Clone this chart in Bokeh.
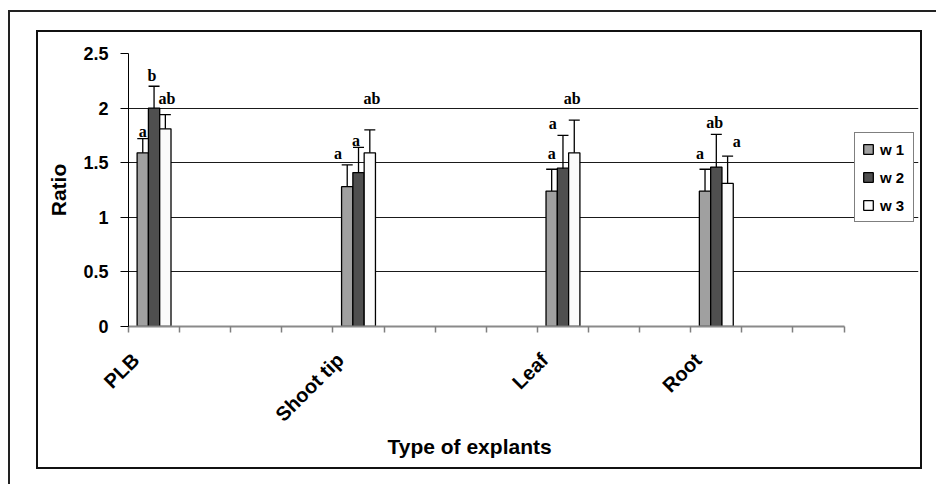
import math
from bokeh.plotting import figure
from bokeh.models import (Range1d, FixedTicker, NumeralTickFormatter, Whisker, TeeHead,
                          ColumnDataSource, Legend, LegendItem, Title)
from bokeh.core.properties import value
from bokeh.embed import file_html
from bokeh.resources import INLINE

# ---------------- data ----------------
categories = ["PLB", "Shoot tip", "Leaf", "Root"]
category_slot = [0, 4, 8, 11]          # slot index among 14 category slots on the axis
n_slots = 14
series = ["w 1", "w 2", "w 3"]
w1 = [1.59, 1.28, 1.24, 1.24]
w2 = [2.00, 1.41, 1.45, 1.46]
w3 = [1.81, 1.59, 1.59, 1.31]
w1_err = [0.13, 0.20, 0.20, 0.20]
w2_err = [0.20, 0.23, 0.30, 0.30]
w3_err = [0.13, 0.21, 0.30, 0.25]
w1_letters = ["a", "a", "a", "a"]
w2_letters = ["b", "a", "a", "ab"]
w3_letters = ["ab", "ab", "ab", "a"]
# letter annotation heights (data units) and horizontal nudges (slot units)
w1_letter_y = [1.79, 1.58, 1.58, 1.58]
w2_letter_y = [2.30, 1.70, 1.86, 1.87]
w3_letter_y = [2.09, 2.09, 2.09, 1.69]
w1_letter_dx = [0.0, -0.18, 0.0, -0.10]
w2_letter_dx = [-0.04, -0.05, -0.20, -0.03]
w3_letter_dx = [0.03, 0.04, -0.04, 0.18]
y_ticks = [0, 0.5, 1, 1.5, 2, 2.5]
x_title = "Type of explants"
y_title = "Ratio"

# ---------------- styles / layout ----------------
colors = ["#a0a0a0", "#4f4f4f", "#fbfbfb"]
bar_w = 0.221
offsets = [-bar_w, 0.0, bar_w]
label_shift = -0.36
SANS = "Liberation Sans"
SERIF = "Liberation Serif"

plot_px = 715.6      # pixel width of the category axis
frame_px = 790       # frame width incl. room for the legend on the right
x_end = n_slots * frame_px / plot_px

p = figure(width=882, height=435, output_backend="svg", toolbar_location=None,
           x_range=Range1d(0, x_end), y_range=Range1d(0, 2.5),
           min_border_left=90, min_border_right=2, min_border_top=21, min_border_bottom=141)
p.background_fill_color = "white"
p.border_fill_color = "white"
p.outline_line_color = None
p.margin = (32, 0, 0, 38)
# inner chart-area frame (2px ring) and outer page frame (L-shaped edge on left/top)
p.styles = {
    "box-shadow": ("0 0 0 2px #111111, "
                   "1972px 1980px 0 2000px #ffffff, "
                   "1970px 1978px 0 2000px #222222"),
}

# grid
p.xgrid.grid_line_color = None
p.ygrid.ticker = FixedTicker(ticks=y_ticks)
p.ygrid.grid_line_color = "#1a1a1a"
p.ygrid.grid_line_width = 1
p.ygrid.bounds = (0, n_slots)

# y axis
ya = p.yaxis[0]
ya.ticker = FixedTicker(ticks=y_ticks)
ya.formatter = NumeralTickFormatter(format="0.[0]")
ya.major_tick_out = 8
ya.major_tick_in = 0
ya.minor_tick_line_color = None
ya.axis_line_color = "black"
ya.major_tick_line_color = "black"
ya.major_label_text_font = SANS
ya.major_label_text_font_style = "bold"
ya.major_label_text_font_size = "18px"
ya.major_label_text_color = "black"
ya.major_label_standoff = 12
ya.axis_label = y_title
ya.axis_label_text_font = SANS
ya.axis_label_text_font_style = "bold"
ya.axis_label_text_font_size = "21px"
ya.axis_label_text_color = "black"
ya.axis_label_standoff = 10

# x axis
centers = [s + 0.5 for s in category_slot]
label_pos = [c + label_shift for c in centers]
xa = p.xaxis[0]
xa.bounds = (0, n_slots)
xa.ticker = FixedTicker(ticks=label_pos, minor_ticks=list(range(n_slots + 1)))
xa.major_label_overrides = {c: lab for c, lab in zip(label_pos, categories)}
xa.major_tick_line_color = None
xa.major_tick_out = 0
xa.major_tick_in = 0
xa.minor_tick_out = 6
xa.minor_tick_in = 0
xa.minor_tick_line_color = "#7f7f7f"
xa.minor_tick_line_width = 1.5
xa.axis_line_color = "#8a8a8a"
xa.axis_line_width = 2
xa.major_label_orientation = math.pi / 4
xa.major_label_text_font = SANS
xa.major_label_text_font_style = "bold"
xa.major_label_text_font_size = "20px"
xa.major_label_text_color = "black"
xa.major_label_standoff = 24

# x-axis title, centred under the category axis (not the whole frame)
xt = Title(text=x_title, align="left", offset=259, standoff=-8,
           text_font=SANS, text_font_style="bold", text_font_size="21px",
           text_color="black")
p.add_layout(xt, "below")

# bars + error bars
vals = [w1, w2, w3]
errs = [w1_err, w2_err, w3_err]
letters = [w1_letters, w2_letters, w3_letters]
letter_y = [w1_letter_y, w2_letter_y, w3_letter_y]
letter_dx = [w1_letter_dx, w2_letter_dx, w3_letter_dx]
items = []
for i, name in enumerate(series):
    xs = [c + offsets[i] for c in centers]
    src = ColumnDataSource(dict(x=xs, top=vals[i],
                                lo=[v - e for v, e in zip(vals[i], errs[i])],
                                hi=[v + e for v, e in zip(vals[i], errs[i])]))
    r = p.vbar(x="x", top="top", bottom=0, width=bar_w, source=src,
               fill_color=colors[i], line_color="black", line_width=1.3)
    items.append(LegendItem(label=name, renderers=[r]))
    wh = Whisker(base="x", upper="hi", lower="lo", source=src, dimension="height",
                 line_color="black", line_width=1.3,
                 upper_head=TeeHead(size=11, line_color="black", line_width=1.3),
                 lower_head=TeeHead(size=11, line_color="black", line_width=1.3))
    p.add_layout(wh)
    lsrc = ColumnDataSource(dict(x=[x + d for x, d in zip(xs, letter_dx[i])],
                                 y=letter_y[i], t=letters[i]))
    p.text(x="x", y="y", text="t", source=lsrc, text_font=value(SERIF),
           text_font_style="bold", text_font_size="16px", text_color="black",
           text_align="center", text_baseline="middle")

legend = Legend(items=items, location=(726, 104), orientation="vertical")
legend.label_text_font = SANS
legend.label_text_font_style = "bold"
legend.label_text_font_size = "15px"
legend.label_text_color = "black"
legend.glyph_width = 12
legend.glyph_height = 12
legend.label_height = 18
legend.label_width = 26
legend.label_standoff = 6
legend.spacing = 10
legend.padding = 7
legend.margin = 0
legend.border_line_color = "black"
legend.border_line_width = 1
legend.background_fill_color = "white"
legend.background_fill_alpha = 1
p.add_layout(legend)

open("out.html", "w").write(file_html(p, INLINE))
